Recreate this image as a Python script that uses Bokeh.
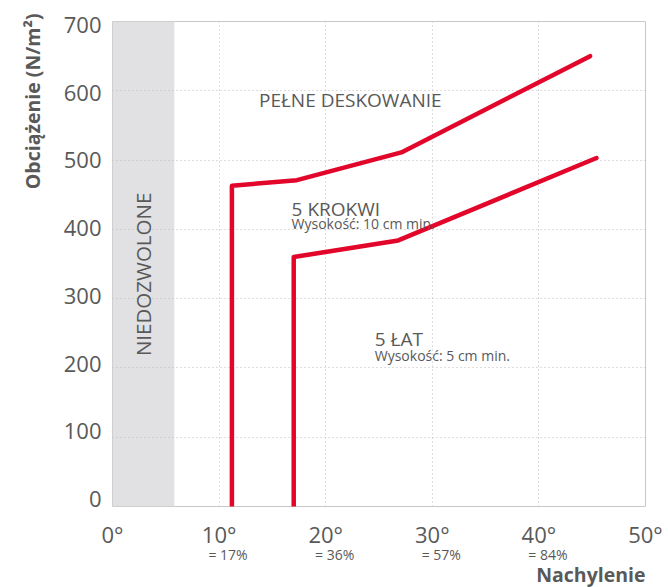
from bokeh.plotting import figure
from bokeh.models import Range1d, LinearAxis, FixedTicker, Label, Title
from bokeh.embed import file_html
from bokeh.resources import INLINE

# ---- data ----
krokwi_x = [11.2, 11.2, 17.3, 27.1, 44.8]
krokwi_y = [0, 463, 471, 511, 650]
lat_x = [17.0, 17.0, 26.8, 45.4]
lat_y = [0, 360, 384, 503]
forbidden_x = [0, 5.8]
deg_ticks = [0, 10, 20, 30, 40, 50]
deg_labels = ["0°", "10°", "20°", "30°", "40°", "50°"]
pct_ticks = [10, 20, 30, 40]
pct_labels = ["= 17%", "= 36%", "= 57%", "= 84%"]
load_ticks = [0, 100, 200, 300, 400, 500, 600, 700]

FONT = "Open Sans"
GRAY = "#595959"
RED = "#e2062b"

p = figure(width=668, height=587, output_backend="svg", toolbar_location=None,
           x_range=Range1d(0, 50), y_range=Range1d(0, 700),
           min_border_left=112, min_border_right=23, min_border_top=21,
           min_border_bottom=81)
p.background_fill_color = "white"
p.border_fill_color = "white"
p.outline_line_color = "#c8c8c8"
p.outline_line_width = 1

# main x axis: degree labels
xa = p.xaxis[0]
xa.ticker = FixedTicker(ticks=deg_ticks)
xa.major_label_overrides = {t: l for t, l in zip(deg_ticks, deg_labels)}
xa.major_label_text_font = FONT
xa.major_label_text_font_size = "22px"
xa.major_label_text_color = GRAY
xa.axis_line_color = None
xa.major_tick_line_color = None
xa.minor_tick_line_color = None
xa.major_tick_out = 0
xa.major_tick_in = 0
xa.major_label_standoff = 12

# secondary x axis: percent labels
p.extra_x_ranges = {"pct": Range1d(-0.84, 49.16)}
pa = LinearAxis(x_range_name="pct", ticker=FixedTicker(ticks=pct_ticks),
                major_label_overrides={t: l for t, l in zip(pct_ticks, pct_labels)},
                major_label_text_font=FONT, major_label_text_font_size="14px",
                major_label_text_color=GRAY, axis_line_color=None,
                major_tick_line_color=None, minor_tick_line_color=None,
                major_tick_out=0, major_tick_in=0, major_label_standoff=-7)
p.add_layout(pa, "below")

# y axis: tick labels on a label range
p.extra_y_ranges = {"lbl": Range1d(-10.8, 705.2)}
yax = p.yaxis[0]
yax.y_range_name = "lbl"
yax.ticker = FixedTicker(ticks=load_ticks)
yax.major_label_text_font = FONT
yax.major_label_text_font_size = "22px"
yax.major_label_text_color = GRAY
yax.axis_line_color = None
yax.major_tick_line_color = None
yax.minor_tick_line_color = None
yax.major_tick_out = 0
yax.major_tick_in = 0
yax.major_label_standoff = 11

p.add_layout(Title(text="Obciążenie (N/m²)", align="right", text_font=FONT,
                   text_font_size="19.5px", text_font_style="bold", text_color=GRAY,
                   standoff=30, offset=-8), "left")

p.xgrid.ticker = FixedTicker(ticks=deg_ticks[1:-1])
p.ygrid.ticker = FixedTicker(ticks=load_ticks[1:-1])
for g in (p.xgrid, p.ygrid):
    g.grid_line_color = "#bcbcbc"
    g.grid_line_dash = "1 3"
    g.grid_line_width = 1

p.add_layout(Title(text="Nachylenie", align="right", text_font=FONT,
                   text_font_size="19.5px", text_font_style="bold", text_color=GRAY,
                   standoff=-15, offset=0), "below")

# forbidden band
p.quad(left=[forbidden_x[0]], right=[forbidden_x[1]], bottom=[load_ticks[0]],
       top=[load_ticks[-1]], fill_color="#e1e1e4", line_color=None, level="image")

p.line(krokwi_x, krokwi_y, line_color=RED, line_width=4.5, line_cap="round", line_join="round")
p.line(lat_x, lat_y, line_color=RED, line_width=4.5, line_cap="round", line_join="round")

# in-plot texts
def txt(x, y, s, size, **kw):
    p.add_layout(Label(x=x, y=y, text=s, text_font=FONT, text_font_size=size,
                       text_color=GRAY, text_baseline="alphabetic", **kw))

txt(13.74, 586, "PEŁNE DESKOWANIE", "19px")
txt(16.8, 430, "5 KROKWI", "19px")
txt(16.8, 408, "Wysokość: 10 cm min.", "14px")
txt(24.6, 242, "5 ŁAT", "19px")
txt(24.6, 218, "Wysokość: 5 cm min.", "14px")
p.add_layout(Label(x=2.9, y=335, text="NIEDOZWOLONE", angle=1.5707963,
                   text_align="center", text_baseline="middle", text_font=FONT,
                   text_font_size="20.5px", text_color=GRAY))

open("out.html", "w").write(file_html(p, INLINE))
